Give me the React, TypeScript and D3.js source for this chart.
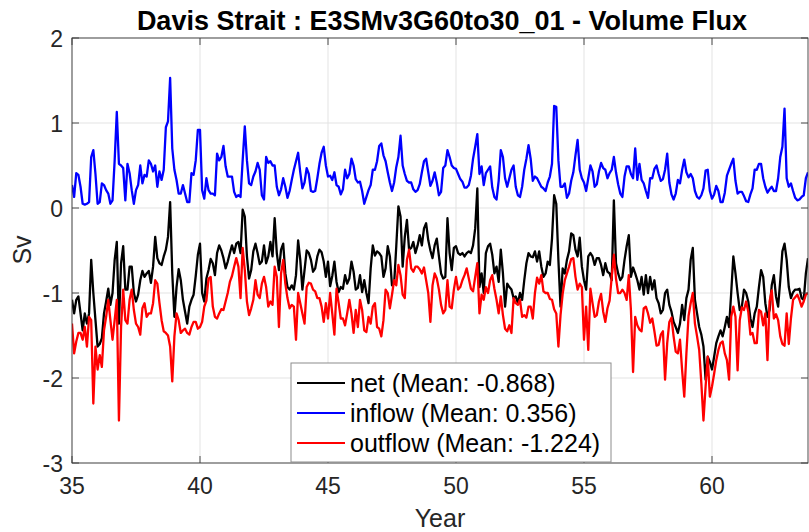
import React from "react";
import * as d3 from "d3";

// ---- data (monthly values, Sv), first sample at year 35.0 ----
const startYear = 35;
const monthsPerYear = 12;

const inflow: number[] = [
  0.27,0.13,0.41,0.39,0.25,0.05,0.04,0.05,0.07,0.6,0.68,0.4,
  0.05,0.07,0.29,0.27,0.21,0.17,0.05,0.09,0.56,1.13,0.52,0.5,
  0.47,0.09,0.52,0.41,0.21,0.05,0.21,0.27,0.5,0.29,0.39,0.37,
  0.56,0.52,0.43,0.5,0.25,0.43,0.33,0.45,0.95,1.02,1.53,0.7,
  0.45,0.33,0.17,0.17,0.27,0.17,0.07,0.07,0.41,0.39,0.56,0.92,
  0.92,0.21,0.11,0.35,0.21,0.17,0.17,0.15,0.64,0.56,0.6,0.73,
  0.49,0.37,0.37,0.37,0.19,0.13,0.15,0.13,0.56,0.96,0.56,0.29,
  0.27,0.37,0.43,0.53,0.45,0.15,0.1,0.6,0.53,0.55,0.5,0.5,
  0.25,0.15,0.22,0.35,0.25,0.12,0.2,0.33,0.45,0.55,0.65,0.42,
  0.23,0.3,0.47,0.4,0.2,0.19,0.2,0.35,0.52,0.65,0.72,0.5,
  0.37,0.38,0.33,0.42,0.27,0.25,0.16,0.22,0.45,0.35,0.4,0.58,
  0.5,0.34,0.3,0.31,0.2,0.05,0.13,0.21,0.27,0.45,0.45,0.55,
  0.73,0.76,0.62,0.55,0.42,0.3,0.2,0.3,0.48,0.6,0.85,0.5,
  0.4,0.32,0.3,0.3,0.22,0.19,0.21,0.28,0.42,0.55,0.58,0.42,
  0.26,0.32,0.42,0.3,0.15,0.19,0.47,0.5,0.68,0.6,0.5,0.47,
  0.46,0.4,0.34,0.31,0.24,0.24,0.27,0.38,0.58,0.72,0.87,0.4,
  0.49,0.27,0.41,0.45,0.49,0.24,0.13,0.1,0.32,0.68,0.6,0.35,
  0.25,0.35,0.45,0.5,0.25,0.15,0.13,0.25,0.45,0.58,0.74,0.58,
  0.32,0.37,0.35,0.3,0.25,0.23,0.2,0.3,0.37,0.52,1.2,1.19,
  0.56,0.25,0.25,0.29,0.12,0.17,0.32,0.42,0.62,0.8,0.45,0.35,
  0.3,0.2,0.35,0.5,0.43,0.25,0.28,0.43,0.53,0.47,0.45,0.35,
  0.41,0.45,0.6,0.42,0.28,0.17,0.13,0.37,0.49,0.49,0.4,0.35,
  0.7,0.33,0.52,0.33,0.29,0.2,0.12,0.35,0.35,0.46,0.5,0.4,
  0.32,0.34,0.45,0.64,0.3,0.16,0.1,0.17,0.33,0.29,0.45,0.57,
  0.42,0.36,0.4,0.35,0.2,0.13,0.11,0.15,0.23,0.44,0.45,0.2,
  0.11,0.16,0.26,0.2,0.07,0.07,0.18,0.38,0.45,0.52,0.58,0.32,
  0.17,0.19,0.19,0.14,0.08,0.07,0.16,0.23,0.45,0.45,0.52,0.52,
  0.35,0.25,0.18,0.22,0.25,0.2,0.2,0.35,0.6,0.72,1.17,0.35,
  0.25,0.29,0.2,0.12,0.09,0.1,0.13,0.15,0.35,0.42,
];

const net: number[] = [
  -1.08,-1.24,-1.08,-1.04,-1.24,-1.44,-1.24,-1.36,-1.24,-0.61,-1.0,-1.32,
  -1.63,-1.6,-1.53,-1.24,-1.1,-0.95,-1.14,-1.0,-0.61,-0.4,-1.36,-0.65,
  -0.45,-0.96,-0.96,-0.69,-0.69,-1.0,-1.1,-1.02,-0.85,-0.74,-0.81,-0.77,
  -0.74,-0.88,-0.69,-0.34,-0.59,-0.65,-0.67,-0.57,-0.49,-0.34,0.07,-0.77,
  -1.28,-0.93,-0.72,-0.85,-1.08,-1.22,-1.36,-1.16,-1.08,-1.02,-0.8,-0.55,
  -0.42,-1.0,-1.1,-0.83,-0.73,-0.6,-0.65,-0.79,-0.53,-0.44,-0.5,-0.59,
  -0.71,-0.63,-0.53,-0.44,-0.53,-0.42,-0.4,-0.53,-0.02,-0.1,-0.57,-0.83,
  -0.73,-0.51,-0.42,-0.53,-0.66,-0.63,-0.44,-0.65,-0.57,-0.4,-0.57,-0.12,
  -0.53,-0.73,-0.49,-0.42,-0.77,-0.93,-0.96,-0.91,-0.96,-0.79,-0.38,-0.61,
  -0.96,-0.73,-0.5,-0.53,-0.61,-0.75,-0.71,-0.57,-0.49,-0.52,-0.63,-0.81,
  -0.63,-0.92,-0.8,-0.63,-0.87,-0.99,-0.93,-0.95,-0.79,-0.89,-0.83,-0.63,
  -0.75,-0.96,-0.94,-0.79,-0.99,-0.85,-1.0,-1.12,-0.71,-0.44,-0.56,-0.51,
  -0.53,-0.57,-0.81,-0.71,-0.45,-0.57,-0.91,-0.89,-0.45,0.02,-0.1,-0.69,
  -0.34,-0.14,-0.49,-0.47,-0.4,-0.53,-0.44,-0.32,-0.44,-0.24,-0.18,-0.38,
  -0.5,-0.59,-0.44,-0.36,-0.57,-0.77,-0.83,-0.81,-0.12,-0.53,-0.73,-0.47,
  -0.45,-0.53,-0.55,-0.53,-0.57,-0.53,-0.51,-0.53,-0.44,-0.24,0.23,-0.93,
  -0.77,-1.0,-0.53,-0.45,-0.42,-0.55,-0.77,-0.69,-0.87,-0.49,-0.77,-1.16,
  -0.89,-0.93,-0.96,-1.06,-1.04,-1.12,-1.0,-1.08,-0.85,-0.65,-0.53,-0.57,
  -0.58,-0.51,-0.63,-0.51,-0.69,-0.81,-0.77,-0.63,-0.67,-0.36,0.15,0.05,
  -0.61,-1.16,-0.71,-0.77,-0.61,-0.51,-0.3,-0.32,-0.49,-0.57,-0.35,-0.69,
  -0.85,-0.96,-0.57,-0.53,-0.57,-0.67,-0.59,-0.59,-0.67,-0.79,-0.65,-0.75,
  -0.77,-0.85,0.09,-0.65,-0.77,-0.85,-0.81,-0.61,-0.45,-0.32,-0.81,-0.7,
  -0.77,-0.85,-0.96,-0.81,-1.02,-0.79,-1.0,-0.81,-0.96,-0.85,-1.06,-1.12,
  -1.24,-1.2,-1.0,-0.96,-1.14,-1.22,-1.34,-1.4,-1.47,-1.36,-1.14,-1.32,
  -1.06,-0.96,-0.61,-0.47,-1.08,-1.24,-1.4,-1.49,-1.63,-2.02,-1.75,-1.81,
  -1.9,-1.75,-1.59,-1.51,-1.44,-1.51,-1.4,-1.28,-1.4,-1.0,-0.57,-0.77,
  -1.0,-1.2,-1.16,-0.96,-1.0,-1.1,-1.3,-1.4,-1.24,-1.16,-0.93,-0.73,
  -0.81,-1.12,-1.28,-1.2,-0.91,-0.79,-1.04,-1.16,-0.85,-0.51,-0.42,-0.61,
  -0.93,-1.06,-0.99,-0.96,-0.96,-0.95,-1.06,-1.08,-0.77,-0.59,
];

const outflow: number[] = [
  -1.36,-1.71,-1.57,-1.47,-1.47,-1.55,-1.4,-1.63,-1.28,-1.32,-2.3,-1.63,
  -1.9,-1.73,-1.87,-1.44,-1.28,-1.08,-1.32,-1.55,-1.32,-1.08,-2.5,-1.4,
  -0.96,-1.32,-1.36,-1.08,-0.96,-1.2,-1.36,-1.4,-1.49,-1.18,-1.12,-1.28,
  -1.24,-1.24,-1.12,-0.85,-0.89,-1.12,-1.32,-1.45,-1.47,-1.5,-1.63,-2.04,
  -1.51,-1.24,-1.32,-1.47,-1.44,-1.42,-1.47,-1.49,-1.4,-1.34,-1.34,-1.42,
  -1.4,-1.34,-1.16,-1.09,-0.83,-0.81,-1.16,-1.28,-1.3,-1.24,-1.19,-1.2,
  -1.1,-1.0,-0.87,-0.8,-0.69,-0.59,-0.69,-1.06,-0.47,-0.73,-1.1,-1.26,
  -1.18,-1.08,-0.85,-1.02,-1.06,-0.89,-0.81,-0.93,-1.16,-1.1,-1.14,-0.69,
  -0.81,-1.4,-0.77,-0.61,-0.89,-1.06,-1.18,-1.14,-1.16,-1.55,-1.0,-1.12,
  -1.24,-1.36,-0.93,-0.88,-0.89,-0.96,-0.98,-1.06,-1.06,-1.16,-1.34,-1.12,
  -1.3,-1.0,-1.24,-1.49,-0.95,-1.12,-1.3,-1.3,-1.38,-1.24,-1.08,-1.24,
  -1.47,-1.2,-1.4,-1.08,-1.2,-1.44,-1.46,-1.28,-1.36,-1.16,-1.12,-1.4,
  -1.42,-1.51,-1.32,-0.96,-1.0,-1.18,-1.02,-0.85,-0.91,-0.67,-0.79,-1.02,
  -1.06,-0.61,-0.49,-0.71,-0.75,-0.69,-0.69,-0.72,-0.77,-0.7,-0.85,-1.0,
  -1.34,-0.91,-0.77,-0.83,-0.96,-1.14,-1.24,-1.2,-0.85,-1.16,-1.18,-0.96,
  -0.81,-0.96,-0.93,-0.85,-0.79,-0.71,-0.83,-0.95,-0.98,-0.81,-0.65,-1.24,
  -1.02,-1.08,-0.93,-1.0,-0.85,-0.79,-0.95,-1.08,-1.24,-1.04,-1.26,-1.42,
  -1.45,-1.38,-1.47,-1.06,-1.12,-1.14,-1.08,-1.28,-1.26,-1.29,-1.16,-1.16,
  -1.3,-1.0,-0.82,-0.89,-0.79,-0.98,-1.0,-1.0,-1.07,-1.08,-1.19,-1.24,
  -1.63,-1.26,-1.01,-0.85,-0.77,-0.69,-0.6,-0.59,-0.81,-0.96,-0.89,-0.93,
  -1.55,-1.16,-1.67,-0.95,-1.12,-1.28,-1.26,-1.1,-1.01,-1.22,-1.34,-1.18,
  -1.09,-0.81,-0.55,-0.83,-1.0,-1.0,-0.96,-1.0,-1.08,-0.79,-1.2,-1.93,
  -1.28,-1.38,-1.43,-1.45,-1.18,-1.16,-1.24,-1.35,-1.3,-1.45,-1.62,-1.61,
  -1.49,-1.45,-2.02,-1.59,-1.34,-1.29,-1.51,-1.69,-1.71,-1.55,-1.91,-2.22,
  -1.71,-1.27,-1.12,-1.0,-1.36,-1.51,-1.67,-2.06,-2.5,-2.1,-1.75,-2.22,
  -2.1,-1.95,-1.79,-1.67,-1.59,-1.57,-1.71,-1.79,-2.02,-1.28,-1.16,-1.28,
  -1.91,-1.32,-1.17,-1.2,-1.1,-1.22,-1.49,-1.47,-1.59,-1.59,-1.2,-1.22,
  -1.38,-1.24,-1.79,-1.1,-0.97,-1.3,-1.25,-1.32,-1.51,-1.6,-1.62,-1.24,
  -1.6,-1.3,-1.08,-1.05,-1.02,-1.08,-1.16,-1.1,-1.02,-1.0,
];

const xTicks = [35, 40, 45, 50, 55, 60];
const yTicks = [-3, -2, -1, 0, 1, 2];
const xDomain: [number, number] = [35, 63.75];
const yDomain: [number, number] = [-3, 2];

const seriesNames = ["net", "inflow", "outflow"];
const seriesMeans = ["-0.868", "0.356", "-1.224"];
const seriesColors = ["#000000", "#0000ff", "#ff0000"];
const titleText = "Davis Strait : E3SMv3G60to30_01 - Volume Flux";

// ---- layout ----
const W = 809;
const H = 532;
const PL = 72, PR = 808, PT = 38, PB = 463;
const FONT = "'Liberation Sans', Arial, Helvetica, sans-serif";

export default function App() {
  const x = d3.scaleLinear().domain(xDomain).range([PL, PR]);
  const y = d3.scaleLinear().domain(yDomain).range([PB, PT]);
  const t = (i: number) => startYear + i / monthsPerYear;
  const line = d3
    .line<number>()
    .x((_, i) => x(t(i)))
    .y((v) => y(v));

  const series = [net, inflow, outflow];
  const axisColor = "#3a3a3a";
  const tickLen = 7;

  const legX = 291, legY = 363, legW = 320, legH = 99;
  const rowH = 30;

  return (
    <svg
      width={W}
      height={H}
      style={{ position: "absolute", left: 0, top: 0, background: "#fff" }}
      fontFamily={FONT}
    >
      <rect x={0} y={0} width={W} height={H} fill="#fff" />
      {/* grid */}
      {xTicks.map((v) => (
        <line key={"gx" + v} x1={x(v)} x2={x(v)} y1={PT} y2={PB} stroke="#e3e3e3" strokeWidth={1} />
      ))}
      {yTicks.map((v) => (
        <line key={"gy" + v} x1={PL} x2={PR} y1={y(v)} y2={y(v)} stroke="#e3e3e3" strokeWidth={1} />
      ))}
      <defs>
        <clipPath id="plotClip">
          <rect x={PL} y={PT - 2} width={PR - PL} height={PB - PT + 4} />
        </clipPath>
      </defs>
      {/* data */}
      <g clipPath="url(#plotClip)">
        {series.map((s, k) => (
          <path
            key={seriesNames[k]}
            d={line(s) || ""}
            fill="none"
            stroke={seriesColors[k]}
            strokeWidth={2.3}
            strokeLinejoin="round"
          />
        ))}
      </g>
      {/* axes box */}
      <rect x={PL} y={PT} width={PR - PL} height={PB - PT} fill="none" stroke={axisColor} strokeWidth={0.9} />
      {xTicks.map((v) => (
        <g key={"tx" + v}>
          <line x1={x(v)} x2={x(v)} y1={PB} y2={PB - tickLen} stroke={axisColor} strokeWidth={0.9} />
          <line x1={x(v)} x2={x(v)} y1={PT} y2={PT + tickLen} stroke={axisColor} strokeWidth={0.9} />
          <text x={x(v)} y={494} textAnchor="middle" fontSize={23} fill="#262626">
            {v}
          </text>
        </g>
      ))}
      {yTicks.map((v) => (
        <g key={"ty" + v}>
          <line x1={PL} x2={PL + tickLen} y1={y(v)} y2={y(v)} stroke={axisColor} strokeWidth={0.9} />
          <line x1={PR} x2={PR - tickLen} y1={y(v)} y2={y(v)} stroke={axisColor} strokeWidth={0.9} />
          <text x={63} y={y(v) + 9} textAnchor="end" fontSize={23} fill="#262626">
            {v}
          </text>
        </g>
      ))}
      {/* legend */}
      <rect x={legX} y={legY} width={legW} height={legH} fill="#fff" stroke="#8c8c8c" strokeWidth={1} />
      {seriesNames.map((n, k) => {
        const cy = legY + 20 + k * rowH;
        return (
          <g key={"leg" + n}>
            <line x1={legX + 6} x2={legX + 54} y1={cy} y2={cy} stroke={seriesColors[k]} strokeWidth={2} />
            <text x={legX + 59} y={cy + 8.5} fontSize={25} fill="#000">
              {`${n} (Mean: ${seriesMeans[k]})`}
            </text>
          </g>
        );
      })}
      {/* labels */}
      <text x={442} y={30} textAnchor="middle" fontSize={27} fontWeight="bold" fill="#000">
        {titleText}
      </text>
      <text x={440} y={527} textAnchor="middle" fontSize={25} fill="#262626">
        Year
      </text>
      <text transform="translate(31,250) rotate(-90)" textAnchor="middle" fontSize={25} fill="#262626">
        Sv
      </text>
    </svg>
  );
}
